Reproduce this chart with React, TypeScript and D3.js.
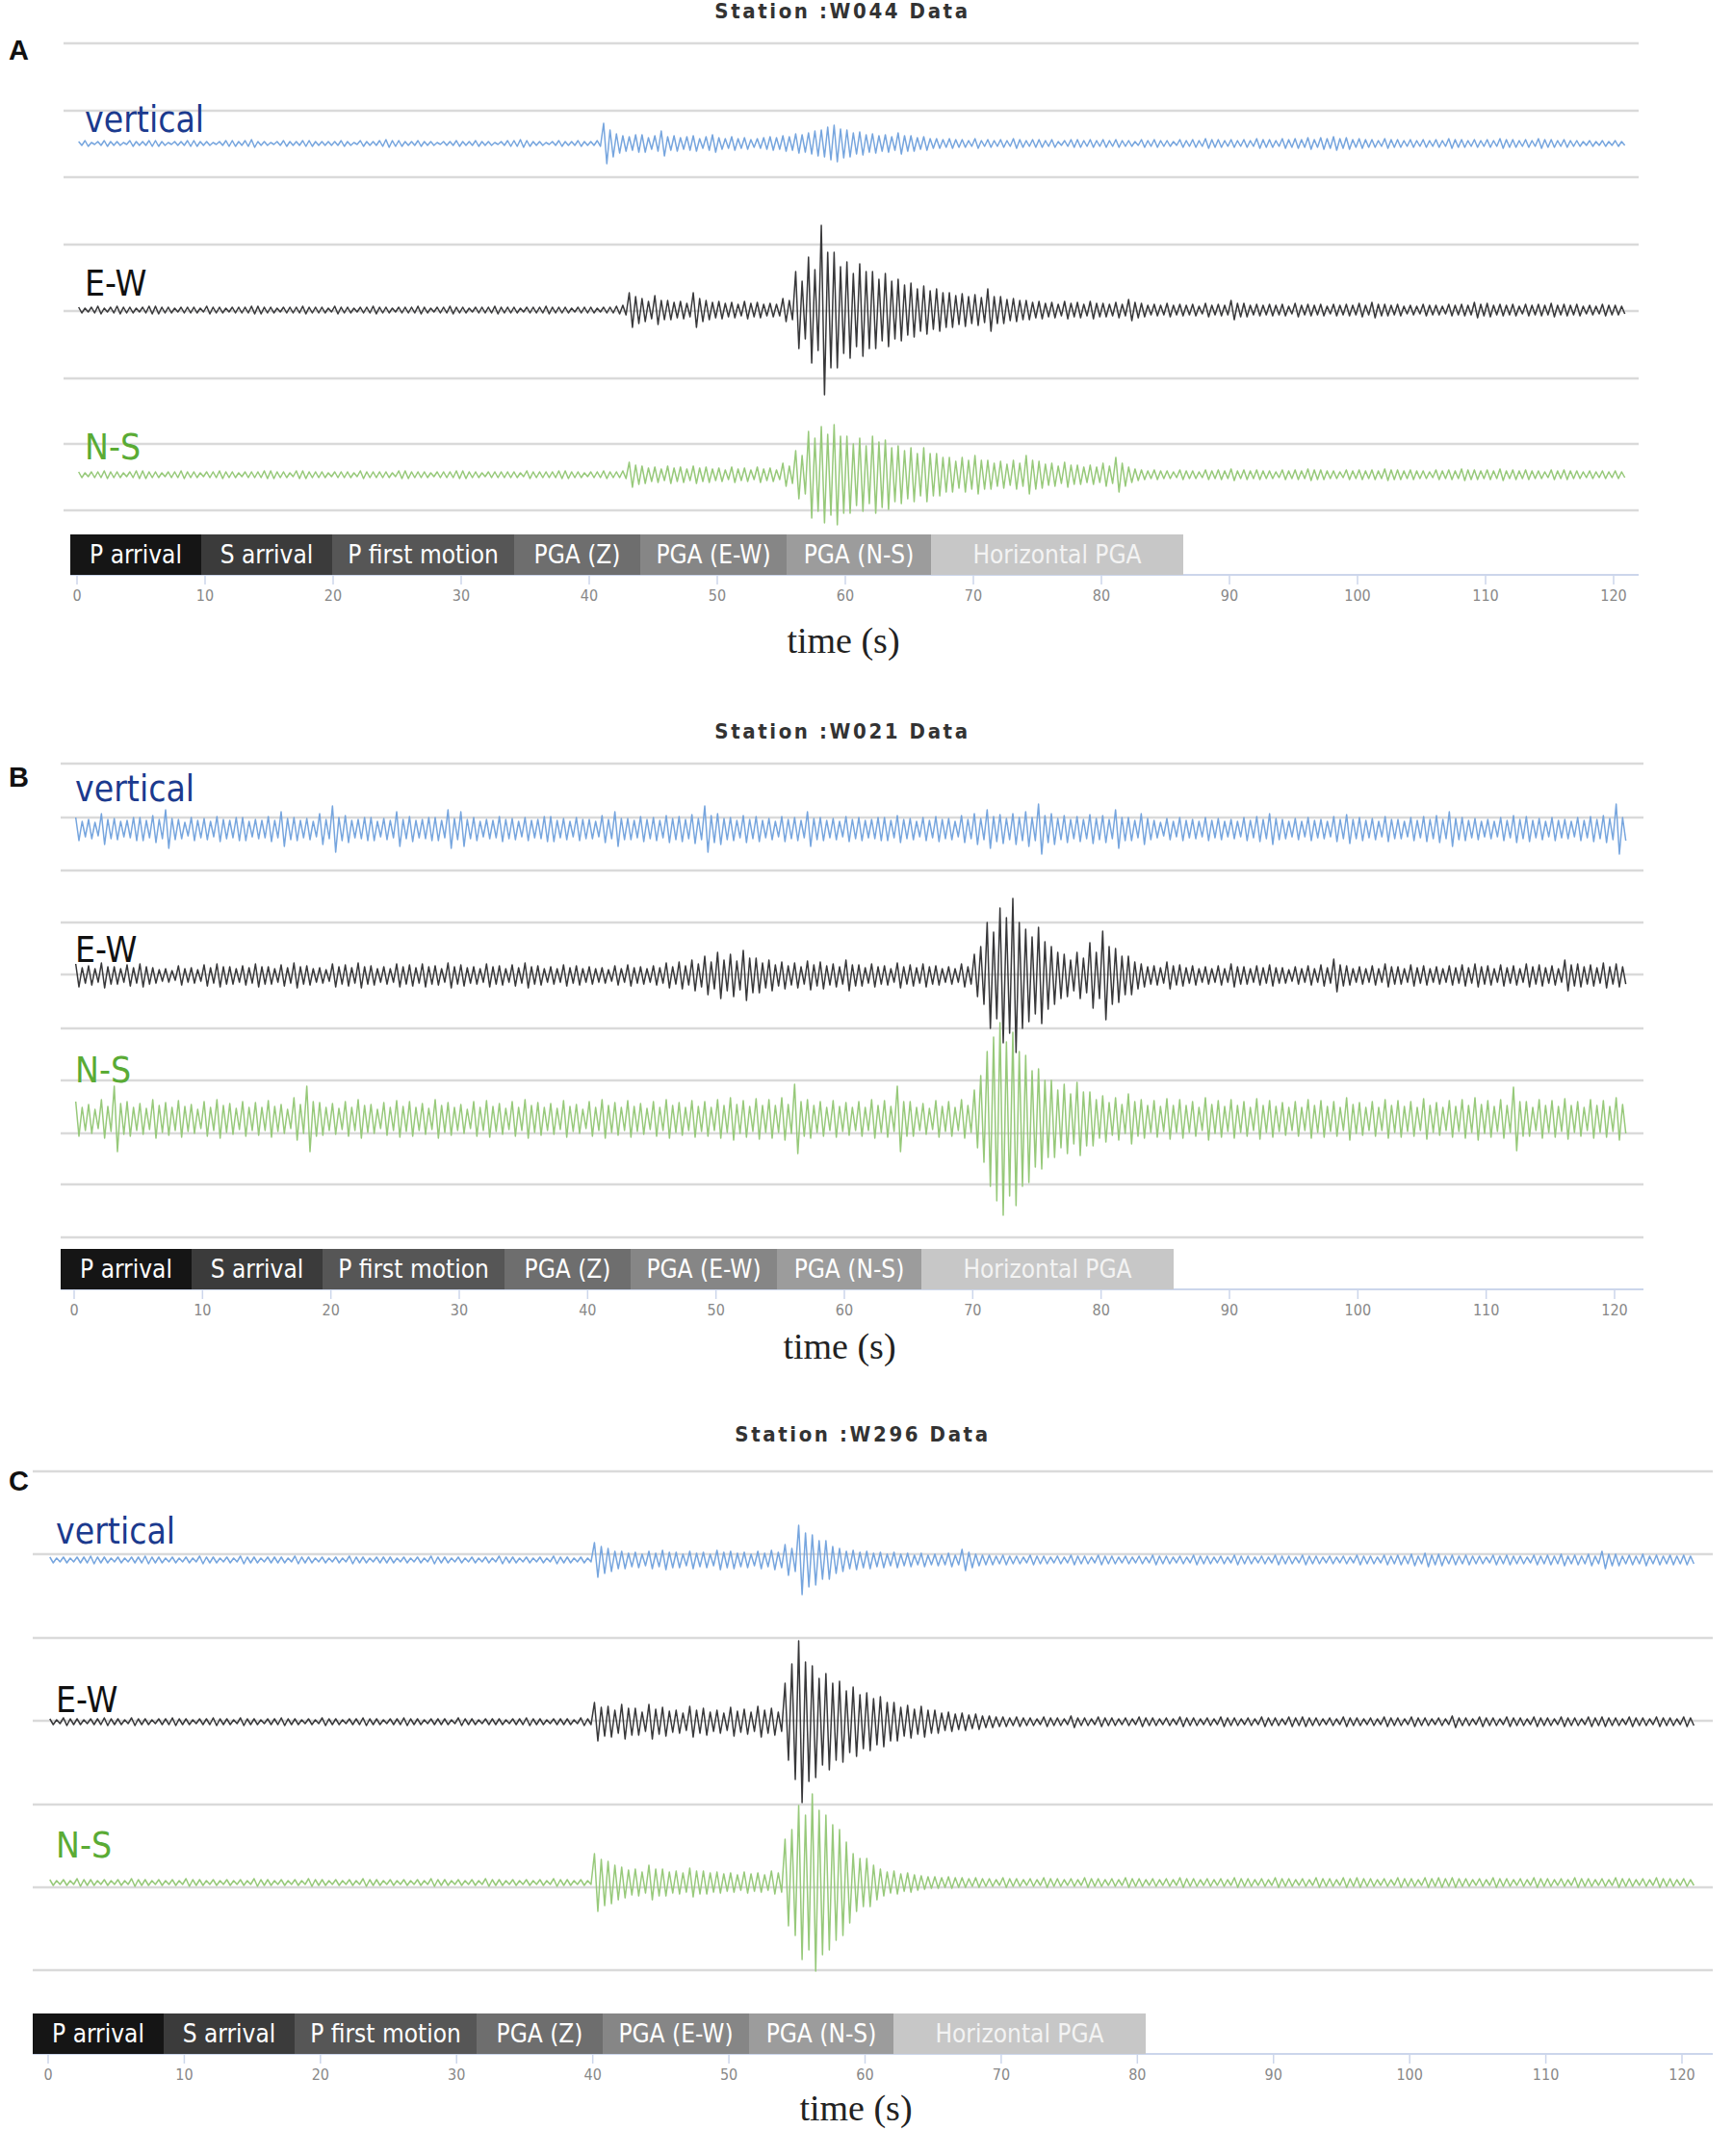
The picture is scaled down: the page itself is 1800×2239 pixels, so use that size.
import React, { useEffect } from 'react';
import * as d3 from 'd3';

// station / component names
const stations = ['W044', 'W021', 'W296'];
const panelLetters = ['A', 'B', 'C'];
const components = ['vertical', 'E-W', 'N-S'];
const legendLabels = ['P arrival', 'S arrival', 'P first motion', 'PGA (Z)', 'PGA (E-W)', 'PGA (N-S)', 'Horizontal PGA'];
const timeTicks = [0, 10, 20, 30, 40, 50, 60, 70, 80, 90, 100, 110, 120];

// peak amplitude of each trace per 0.5 s bin (0 .. 120.5 s); one row = 10 s
const w044Vertical = [
  2, 3, 1, 2, 3, 2, 2, 1, 3, 2, 2, 3, 3, 2, 1, 2, 2, 3, 3, 2,
  2, 1, 2, 3, 3, 2, 3, 4, 2, 2, 1, 2, 3, 2, 2, 3, 3, 2, 2, 2,
  2, 3, 2, 1, 3, 2, 2, 3, 4, 3, 3, 2, 2, 3, 2, 2, 1, 2, 2, 3,
  2, 2, 3, 2, 2, 1, 2, 3, 3, 4, 3, 2, 2, 1, 2, 3, 2, 2, 3, 2,
  2, 3, 21, 14, 10, 8, 7, 9, 9, 6, 8, 13, 7, 8, 6, 7, 8, 5, 7, 9,
  6, 5, 7, 5, 6, 4, 5, 6, 7, 6, 8, 7, 10, 9, 11, 13, 14, 17, 19, 15,
  14, 11, 12, 9, 10, 8, 9, 7, 11, 8, 8, 6, 7, 5, 5, 4, 5, 4, 4, 3,
  5, 3, 4, 3, 4, 3, 5, 4, 3, 4, 4, 3, 4, 2, 3, 4, 4, 3, 4, 3,
  4, 3, 4, 3, 3, 2, 4, 3, 4, 3, 3, 2, 4, 3, 4, 3, 5, 4, 4, 3,
  4, 3, 4, 3, 5, 4, 4, 3, 5, 4, 5, 4, 6, 4, 6, 5, 7, 5, 6, 4,
  5, 4, 4, 3, 5, 4, 4, 3, 4, 3, 4, 3, 4, 3, 5, 4, 4, 3, 4, 3,
  4, 3, 5, 4, 4, 3, 4, 3, 5, 4, 4, 3, 4, 3, 3, 2, 3, 2, 3, 2,
  3, 2,
];
const w044EW = [
  3, 2, 3, 4, 2, 3, 4, 3, 3, 2, 3, 4, 4, 3, 3, 2, 3, 3, 3, 2,
  4, 3, 3, 2, 3, 3, 3, 4, 4, 3, 3, 2, 3, 3, 3, 4, 3, 3, 3, 2,
  4, 3, 3, 2, 3, 3, 4, 3, 3, 2, 3, 3, 3, 4, 3, 2, 3, 3, 4, 3,
  3, 2, 3, 3, 3, 4, 3, 3, 3, 2, 3, 3, 3, 4, 3, 3, 3, 2, 3, 3,
  3, 2, 3, 3, 4, 5, 18, 14, 12, 9, 15, 10, 10, 8, 9, 7, 18, 12, 10, 8,
  9, 7, 8, 6, 9, 7, 8, 6, 7, 6, 12, 10, 40, 30, 55, 42, 88, 60, 60, 45,
  50, 38, 48, 40, 40, 32, 38, 30, 32, 26, 28, 22, 25, 20, 22, 18, 18, 15, 17, 14,
  16, 13, 22, 14, 14, 11, 12, 10, 10, 8, 9, 7, 8, 6, 9, 7, 8, 6, 9, 7,
  7, 6, 8, 6, 11, 8, 7, 5, 6, 5, 7, 5, 6, 5, 6, 4, 7, 5, 6, 5,
  10, 7, 7, 5, 6, 5, 6, 5, 6, 4, 7, 5, 6, 5, 6, 4, 6, 5, 6, 5,
  7, 5, 8, 6, 6, 5, 6, 4, 5, 4, 6, 5, 5, 4, 6, 5, 6, 5, 8, 6,
  7, 5, 6, 5, 6, 4, 6, 5, 6, 5, 7, 5, 6, 5, 6, 4, 5, 4, 6, 5,
  5, 4,
];
const w044NS = [
  3, 2, 3, 3, 4, 3, 3, 2, 3, 4, 4, 3, 3, 2, 3, 3, 4, 3, 3, 2,
  3, 3, 4, 3, 3, 2, 3, 3, 3, 4, 4, 3, 3, 2, 4, 4, 3, 3, 3, 2,
  3, 3, 3, 2, 4, 3, 3, 3, 3, 2, 4, 4, 3, 3, 3, 2, 3, 3, 3, 4,
  4, 3, 3, 2, 3, 3, 3, 3, 3, 2, 4, 3, 3, 3, 3, 4, 4, 3, 3, 2,
  3, 3, 4, 3, 3, 4, 13, 10, 9, 7, 8, 6, 9, 7, 8, 6, 9, 7, 8, 6,
  7, 5, 8, 6, 7, 5, 8, 6, 7, 5, 12, 9, 25, 20, 45, 38, 50, 42, 52, 40,
  40, 32, 38, 30, 40, 34, 36, 28, 30, 25, 28, 22, 28, 22, 22, 18, 18, 14, 18, 15,
  20, 15, 15, 12, 14, 11, 15, 12, 20, 15, 14, 11, 12, 9, 13, 10, 10, 8, 10, 8,
  12, 9, 18, 12, 8, 6, 5, 4, 5, 4, 4, 3, 5, 4, 4, 3, 5, 4, 5, 4,
  6, 4, 5, 4, 5, 4, 4, 3, 5, 4, 5, 4, 6, 5, 5, 4, 4, 3, 5, 4,
  5, 4, 5, 4, 6, 5, 5, 4, 5, 4, 4, 3, 5, 4, 5, 4, 6, 5, 5, 4,
  5, 4, 6, 4, 5, 4, 5, 4, 4, 3, 5, 4, 5, 4, 4, 3, 4, 3, 4, 3,
  4, 3,
];
const w021Vertical = [
  12, 8, 10, 7, 16, 10, 11, 8, 9, 12, 12, 9, 14, 10, 20, 11, 10, 7, 12, 9,
  11, 8, 13, 10, 9, 12, 12, 8, 10, 9, 13, 9, 18, 11, 12, 9, 11, 8, 16, 10,
  24, 12, 14, 9, 10, 12, 12, 8, 11, 9, 18, 10, 13, 9, 10, 12, 12, 9, 20, 11,
  18, 10, 12, 8, 10, 9, 13, 10, 11, 8, 12, 9, 10, 13, 13, 9, 11, 8, 12, 10,
  10, 8, 14, 10, 18, 11, 11, 9, 13, 10, 12, 9, 14, 11, 13, 10, 15, 11, 24, 14,
  16, 11, 12, 9, 14, 10, 13, 9, 11, 8, 13, 10, 12, 9, 18, 11, 12, 9, 11, 8,
  13, 10, 12, 9, 10, 12, 12, 9, 14, 10, 11, 8, 12, 9, 13, 10, 11, 8, 14, 10,
  16, 11, 20, 13, 15, 11, 16, 12, 18, 12, 26, 14, 16, 11, 14, 10, 13, 10, 15, 11,
  14, 10, 20, 12, 12, 9, 16, 11, 9, 7, 11, 8, 12, 9, 10, 8, 12, 9, 11, 8,
  10, 8, 12, 9, 13, 10, 16, 11, 10, 8, 11, 8, 12, 9, 10, 8, 13, 10, 15, 10,
  12, 9, 11, 8, 13, 10, 10, 8, 12, 9, 13, 10, 14, 10, 18, 11, 12, 9, 11, 8,
  10, 8, 12, 9, 14, 10, 13, 9, 11, 8, 12, 9, 10, 8, 12, 9, 13, 10, 14, 11,
  26, 12,
];
const w021EW = [
  12, 8, 10, 7, 13, 9, 9, 7, 11, 8, 12, 9, 8, 6, 7, 5, 10, 7, 8, 6,
  11, 8, 12, 9, 9, 7, 10, 8, 12, 9, 9, 7, 11, 8, 13, 9, 10, 7, 8, 6,
  12, 9, 11, 8, 13, 9, 10, 7, 9, 7, 12, 9, 11, 8, 12, 9, 10, 7, 13, 9,
  11, 8, 9, 7, 12, 9, 10, 7, 11, 8, 13, 9, 10, 7, 9, 7, 11, 8, 10, 7,
  9, 7, 8, 6, 10, 7, 11, 8, 9, 7, 10, 8, 13, 9, 14, 10, 16, 12, 20, 14,
  24, 16, 22, 15, 26, 18, 18, 13, 16, 11, 14, 10, 13, 9, 15, 11, 14, 10, 12, 9,
  16, 11, 11, 8, 12, 9, 10, 7, 13, 9, 11, 8, 12, 9, 10, 7, 9, 7, 12, 9,
  22, 30, 55, 45, 70, 60, 80, 55, 48, 40, 50, 35, 30, 24, 22, 16, 24, 18, 34, 24,
  46, 30, 28, 20, 20, 14, 12, 9, 10, 8, 14, 10, 11, 8, 10, 7, 9, 7, 10, 7,
  12, 9, 9, 7, 10, 8, 11, 8, 8, 6, 9, 7, 10, 7, 11, 8, 17, 11, 10, 7,
  9, 7, 10, 7, 12, 9, 9, 7, 11, 8, 10, 7, 9, 7, 10, 8, 11, 8, 12, 9,
  10, 7, 11, 8, 10, 7, 12, 9, 11, 8, 10, 7, 16, 11, 12, 9, 11, 8, 13, 9,
  12, 9,
];
const w021NS = [
  18, 12, 15, 10, 20, 13, 34, 16, 18, 12, 16, 11, 20, 14, 17, 12, 19, 13, 15, 10,
  18, 12, 20, 14, 16, 11, 18, 12, 17, 12, 19, 13, 15, 10, 22, 15, 34, 18, 17, 12,
  16, 11, 18, 12, 20, 14, 15, 10, 17, 12, 19, 13, 18, 12, 16, 11, 20, 14, 17, 12,
  15, 10, 18, 12, 19, 13, 16, 11, 18, 12, 20, 14, 17, 12, 16, 11, 19, 13, 15, 10,
  18, 12, 20, 14, 17, 12, 19, 13, 16, 11, 18, 12, 20, 14, 17, 12, 19, 13, 18, 12,
  20, 14, 22, 15, 19, 13, 21, 14, 20, 14, 22, 15, 36, 18, 20, 14, 18, 12, 19, 13,
  17, 12, 18, 12, 20, 14, 19, 13, 34, 18, 18, 12, 16, 11, 19, 13, 18, 12, 20, 14,
  30, 45, 70, 85, 100, 80, 90, 70, 66, 50, 52, 40, 40, 30, 36, 26, 38, 28, 28, 20,
  24, 17, 22, 15, 26, 18, 20, 14, 19, 13, 21, 14, 20, 14, 18, 12, 22, 15, 19, 13,
  20, 14, 18, 12, 21, 14, 19, 13, 17, 12, 18, 12, 20, 14, 19, 13, 18, 12, 22, 15,
  17, 12, 18, 12, 20, 14, 19, 13, 18, 12, 21, 14, 17, 12, 19, 13, 20, 14, 22, 15,
  19, 13, 20, 14, 33, 18, 18, 12, 20, 14, 19, 13, 21, 14, 18, 12, 20, 14, 19, 13,
  22, 15,
];
const w296Vertical = [
  3, 2, 3, 2, 3, 3, 4, 3, 3, 2, 3, 2, 3, 3, 4, 3, 3, 2, 3, 2,
  3, 2, 4, 3, 3, 2, 3, 2, 4, 3, 3, 2, 3, 3, 3, 2, 4, 3, 3, 2,
  3, 2, 3, 2, 4, 3, 3, 2, 3, 3, 3, 2, 3, 2, 3, 2, 4, 3, 3, 2,
  3, 2, 3, 2, 3, 2, 4, 3, 3, 2, 3, 2, 3, 2, 4, 3, 3, 2, 3, 2,
  18, 14, 12, 9, 9, 7, 8, 6, 9, 7, 10, 8, 8, 6, 9, 7, 8, 6, 10, 8,
  9, 7, 8, 6, 9, 7, 10, 8, 16, 12, 36, 28, 26, 20, 20, 14, 12, 9, 10, 8,
  9, 7, 8, 6, 8, 6, 7, 5, 7, 5, 6, 5, 7, 5, 11, 8, 6, 5, 5, 4,
  5, 4, 4, 3, 5, 4, 4, 3, 4, 3, 5, 4, 4, 3, 5, 4, 4, 3, 4, 3,
  4, 3, 5, 4, 4, 3, 4, 3, 5, 4, 4, 3, 4, 3, 5, 4, 4, 3, 4, 3,
  5, 4, 4, 3, 5, 4, 4, 3, 4, 3, 4, 3, 5, 4, 4, 3, 5, 4, 5, 4,
  6, 4, 7, 5, 6, 4, 5, 4, 5, 4, 4, 3, 5, 4, 5, 4, 4, 3, 5, 4,
  5, 4, 6, 4, 5, 4, 6, 4, 9, 6, 6, 4, 5, 4, 6, 4, 5, 4, 5, 4,
  5, 4,
];
const w296EW = [
  3, 2, 4, 3, 3, 2, 3, 3, 4, 3, 3, 2, 4, 3, 3, 2, 3, 3, 4, 3,
  3, 2, 3, 3, 4, 3, 3, 2, 4, 3, 3, 2, 3, 3, 4, 3, 3, 2, 3, 2,
  4, 3, 3, 2, 3, 3, 4, 3, 3, 2, 3, 3, 4, 3, 3, 2, 3, 3, 3, 2,
  4, 3, 3, 2, 3, 3, 3, 2, 3, 3, 4, 3, 3, 2, 3, 3, 3, 2, 4, 3,
  20, 15, 16, 12, 18, 14, 14, 10, 18, 13, 15, 11, 12, 9, 16, 12, 14, 10, 12, 9,
  15, 11, 13, 10, 16, 12, 14, 10, 40, 60, 84, 62, 58, 45, 50, 40, 42, 32, 36, 28,
  30, 24, 26, 20, 20, 15, 17, 13, 16, 12, 12, 9, 10, 8, 9, 7, 8, 6, 6, 5,
  5, 4, 5, 4, 4, 3, 5, 4, 4, 3, 6, 4, 4, 3, 5, 4, 4, 3, 4, 3,
  5, 4, 4, 3, 4, 3, 5, 4, 4, 3, 4, 3, 5, 4, 4, 3, 4, 3, 5, 4,
  4, 3, 5, 4, 5, 4, 4, 3, 4, 3, 5, 4, 4, 3, 4, 3, 5, 4, 4, 3,
  5, 4, 4, 3, 4, 3, 6, 4, 4, 3, 5, 4, 4, 3, 5, 4, 4, 3, 5, 4,
  4, 3, 5, 4, 4, 3, 5, 4, 5, 4, 4, 3, 5, 4, 4, 3, 5, 4, 4, 3,
  5, 4,
];
const w296NS = [
  3, 2, 3, 2, 4, 3, 3, 2, 3, 2, 3, 2, 4, 3, 3, 2, 3, 2, 3, 2,
  4, 3, 3, 2, 3, 2, 3, 2, 3, 2, 4, 3, 3, 2, 3, 2, 3, 2, 4, 3,
  3, 2, 3, 2, 3, 2, 4, 3, 3, 2, 3, 2, 3, 2, 3, 2, 4, 3, 3, 2,
  3, 2, 3, 2, 4, 3, 3, 2, 3, 2, 3, 2, 3, 2, 4, 3, 3, 2, 3, 2,
  30, 24, 22, 18, 16, 13, 14, 11, 18, 14, 14, 11, 12, 10, 15, 12, 12, 10, 11, 9,
  10, 8, 11, 9, 10, 8, 12, 10, 45, 55, 80, 70, 92, 75, 70, 60, 55, 42, 30, 25,
  25, 18, 14, 11, 12, 9, 10, 8, 7, 6, 6, 5, 6, 5, 5, 4, 5, 4, 4, 3,
  5, 4, 4, 3, 4, 3, 5, 4, 4, 3, 4, 3, 5, 4, 4, 3, 4, 3, 5, 4,
  4, 3, 4, 3, 4, 3, 5, 4, 4, 3, 4, 3, 4, 3, 5, 4, 4, 3, 4, 3,
  5, 4, 4, 3, 4, 3, 5, 4, 4, 3, 5, 4, 5, 4, 4, 3, 4, 3, 5, 4,
  4, 3, 5, 4, 5, 4, 5, 4, 4, 3, 4, 3, 5, 4, 4, 3, 4, 3, 5, 4,
  4, 3, 4, 3, 5, 4, 4, 3, 4, 3, 5, 4, 4, 3, 4, 3, 5, 4, 4, 3,
  4, 3,
];

const stationTraces = [
  [w044Vertical, w044EW, w044NS],
  [w021Vertical, w021EW, w021NS],
  [w296Vertical, w296EW, w296NS],
];
const binSeconds = 0.5;

// ---- layout (pixels) ----
const panels = [
  {
    titleX: 875, titleY: 19, letterY: 62,
    gridL: 66, gridR: 1702, grid: [45, 115, 184, 254, 323, 393, 461, 530], axisY: 597, axisL: 73,
    x0: 80, x1: 1676, bases: [149, 322, 493], labelX: 88, labelY: [137, 307, 477], timeX: 876, timeY: 678,
  },
  {
    titleX: 875, titleY: 767, letterY: 817,
    gridL: 63, gridR: 1707, grid: [793, 849, 904, 958, 1012, 1068, 1122, 1177, 1230, 1285], axisY: 1339, axisL: 63,
    x0: 77, x1: 1677, bases: [861, 1013, 1162], labelX: 78, labelY: [832, 999, 1124], timeX: 872, timeY: 1411,
  },
  {
    titleX: 896, titleY: 1497, letterY: 1548,
    gridL: 34, gridR: 1779, grid: [1528, 1614, 1701, 1787, 1874, 1960, 2046], axisY: 2133, axisL: 34,
    x0: 50, x1: 1747, bases: [1620, 1788, 1955], labelX: 58, labelY: [1603, 1778, 1929], timeX: 889, timeY: 2202,
  },
];

const legendWidths = [136, 136, 189, 131, 152, 150, 262];
const legendFill = ['#151515', '#3b3b3b', '#565656', '#6e6e6e', '#868686', '#9c9c9c', '#c7c7c7'];
const traceColor = ['#76a5de', '#38383a', '#97c97a'];
const labelColor = ['#1b3a8e', '#111111', '#5aab35'];

const condensed = "'DejaVu Sans Condensed', 'DejaVu Sans', sans-serif";

const Panel = ({ idx }: { idx: number }) => {
  const p = panels[idx];
  const x = d3.scaleLinear().domain([0, 120]).range([p.x0, p.x1]);
  const legendX = legendWidths.reduce<number[]>((acc, w, i) => {
    acc.push(i === 0 ? p.axisL : acc[i - 1] + legendWidths[i - 1]);
    return acc;
  }, []);
  const barH = 42;

  return (
    <g>
      <text x={9} y={p.letterY} fontFamily="'Liberation Sans', Arial, sans-serif" fontWeight="bold" fontSize={29} fill="#111">
        {panelLetters[idx]}
      </text>
      <text x={p.titleX} y={p.titleY} textAnchor="middle" fontFamily={condensed} fontStretch="condensed"
        fontWeight="bold" fontSize={22} letterSpacing={2.6} fill="#333">
        {`Station :${stations[idx]} Data`}
      </text>
      {p.grid.map((gy, i) => (
        <line key={i} x1={p.gridL} x2={p.gridR} y1={gy} y2={gy} stroke="#dadada" strokeWidth={2.5} />
      ))}
      {stationTraces[idx].map((amps, c) => {
        const y = d3.scaleLinear().domain([-100, 100]).range([p.bases[c] + 100, p.bases[c] - 100]);
        // each bin drawn as its max then min deflection
        const pts: [number, number][] = [];
        amps.forEach((a, i) => {
          const t = i * binSeconds;
          pts.push([t + binSeconds * 0.25, a], [t + binSeconds * 0.75, -a]);
        });
        const line = d3.line<[number, number]>().x(d => x(d[0])).y(d => y(d[1]));
        return (
          <path key={c} d={line(pts) || ''} fill="none" stroke={traceColor[c]} strokeWidth={1.5} strokeLinejoin="round" />
        );
      })}
      {components.map((name, c) => (
        <text key={name} x={p.labelX} y={p.labelY[c]} fontFamily={condensed} fontStretch="condensed"
          fontSize={37} fill={labelColor[c]}>
          {name}
        </text>
      ))}
      <line x1={p.axisL} x2={p.gridR} y1={p.axisY} y2={p.axisY} stroke="#ccd6eb" strokeWidth={2} />
      {legendLabels.map((lab, i) => (
        <g key={lab}>
          <rect x={legendX[i]} y={p.axisY - barH} width={legendWidths[i]} height={barH} fill={legendFill[i]} />
          <text x={legendX[i] + legendWidths[i] / 2} y={p.axisY - barH / 2 + 9} textAnchor="middle"
            fontFamily={condensed} fontStretch="condensed" fontSize={26}
            fill={i === legendLabels.length - 1 ? '#f3f3f3' : '#ffffff'}>
            {lab}
          </text>
        </g>
      ))}
      {timeTicks.map(t => (
        <g key={t}>
          <line x1={x(t)} x2={x(t)} y1={p.axisY} y2={p.axisY + 10} stroke="#ccd6eb" strokeWidth={1.5} />
          <text x={x(t)} y={p.axisY + 27} textAnchor="middle" fontFamily={condensed} fontStretch="condensed"
            fontSize={16} fill="#888">
            {t}
          </text>
        </g>
      ))}
      <text x={p.timeX} y={p.timeY} textAnchor="middle" fontFamily="'Liberation Serif', 'Times New Roman', serif"
        fontSize={38} fill="#222">
        time (s)
      </text>
    </g>
  );
};

export default function App() {
  useEffect(() => {
    document.body.style.margin = '0';
  }, []);
  return (
    <svg width={1800} height={2239} style={{ display: 'block', background: '#fff' }}>
      <rect width={1800} height={2239} fill="#fff" />
      {stations.map((s, i) => (
        <Panel key={s} idx={i} />
      ))}
    </svg>
  );
}
